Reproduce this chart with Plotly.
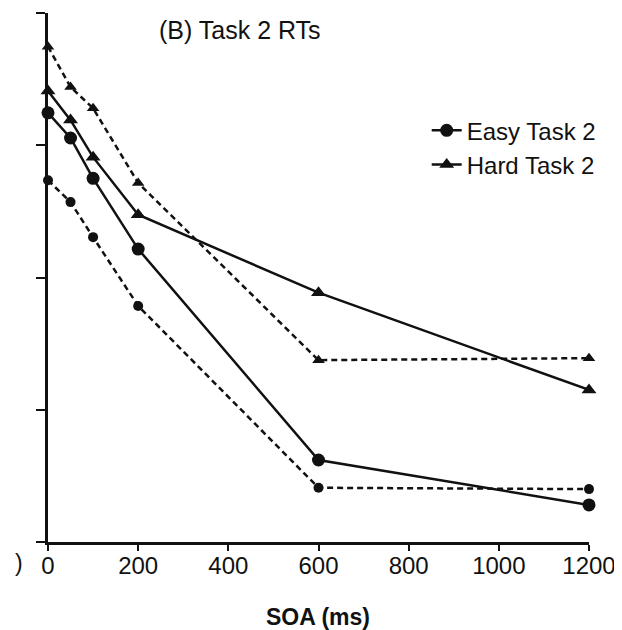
import plotly.graph_objects as go

# Data; y in arbitrary RT units (ms), axis unlabeled
soa = [0, 50, 100, 200, 600, 1200]
easy_solid = [1049, 1011, 950, 843, 524, 456]
hard_solid = [1082, 1038, 982, 895, 777, 630]
easy_dashed = [947, 914, 861, 757, 482, 480]
hard_dashed = [1149, 1088, 1056, 943, 675, 678]

x_ticks = [0, 200, 400, 600, 800, 1000, 1200]
y_ticks = [400, 600, 800, 1000, 1200]

FONT = "Liberation Sans, Arial, Helvetica, sans-serif"
BLACK = "#111111"

fig = go.Figure()

fig.add_trace(go.Scatter(
    x=soa, y=easy_dashed, mode="lines+markers", showlegend=False,
    line=dict(color=BLACK, width=2.5, dash="6px,4px"),
    marker=dict(symbol="circle", size=10, color=BLACK),
    cliponaxis=False,
))
fig.add_trace(go.Scatter(
    x=soa, y=hard_dashed, mode="lines+markers", showlegend=False,
    line=dict(color=BLACK, width=2.5, dash="6px,4px"),
    marker=dict(symbol="triangle-up", size=11, color=BLACK),
    cliponaxis=False,
))
fig.add_trace(go.Scatter(
    x=soa, y=easy_solid, mode="lines+markers", name="Easy Task 2",
    line=dict(color=BLACK, width=2.5),
    marker=dict(symbol="circle", size=13, color=BLACK),
    cliponaxis=False,
))
fig.add_trace(go.Scatter(
    x=soa, y=hard_solid, mode="lines+markers", name="Hard Task 2",
    line=dict(color=BLACK, width=2.5),
    marker=dict(symbol="triangle-up", size=13, color=BLACK),
    cliponaxis=False,
))

fig.update_layout(
    width=614, height=622,
    margin=dict(l=40, r=33, t=5, b=88, autoexpand=False),
    paper_bgcolor="white", plot_bgcolor="white",
    font=dict(family=FONT, color=BLACK, size=23),
    showlegend=True,
    legend=dict(
        x=0.700, y=0.820, xanchor="left", yanchor="top",
        font=dict(family=FONT, size=24, color=BLACK),
        bgcolor="rgba(0,0,0,0)", itemwidth=30,
        tracegroupgap=0,
    ),
    xaxis=dict(
        range=[0, 1200], tickvals=x_ticks, ticktext=[str(v) for v in x_ticks],
        showline=True, linecolor=BLACK, linewidth=2.5,
        ticks="outside", ticklen=6, tickwidth=2, tickcolor=BLACK,
        showgrid=False, zeroline=False, automargin=False,
        ticklabelstandoff=-6,
        tickfont=dict(family=FONT, size=24, color=BLACK),
    ),
    yaxis=dict(
        range=[400, 1200], tickvals=y_ticks, showticklabels=False,
        showline=True, linecolor=BLACK, linewidth=2.5,
        ticks="outside", ticklen=9, tickwidth=1.5, tickcolor=BLACK,
        showgrid=False, zeroline=False, automargin=False,
    ),
    annotations=[
        dict(text="(B) Task 2 RTs", xref="paper", yref="paper", x=0.355, y=0.968,
             xanchor="center", yanchor="middle", showarrow=False,
             font=dict(family=FONT, size=25, color=BLACK)),
        dict(text="<b>SOA (ms)</b>", xref="paper", yref="paper", x=0.499, y=-0.142,
             xanchor="center", yanchor="middle", showarrow=False,
             font=dict(family=FONT, size=23, color=BLACK)),
        dict(text=")", xref="paper", yref="paper", x=-0.054, y=-0.040,
             xanchor="center", yanchor="middle", showarrow=False,
             font=dict(family=FONT, size=23, color=BLACK)),
    ],
)

fig.write_html("out.html")
